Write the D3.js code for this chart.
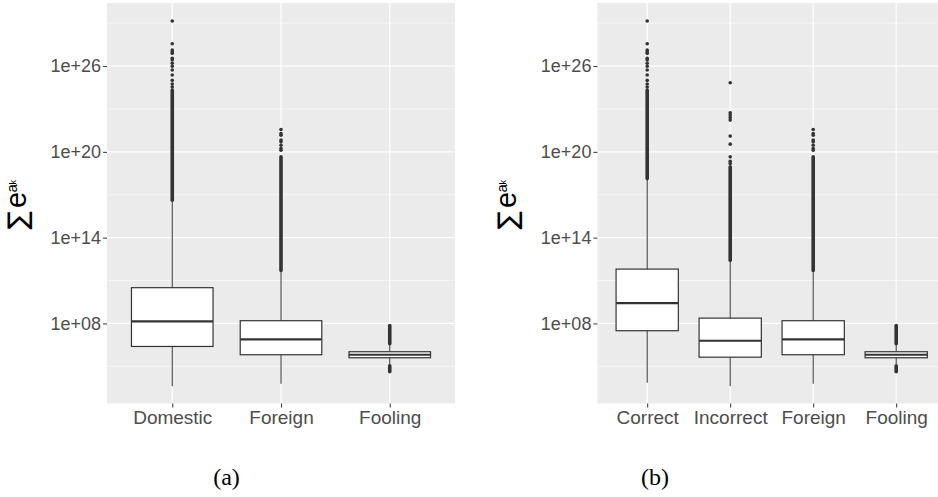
<!DOCTYPE html>
<html>
<head>
<meta charset="utf-8">
<script src="https://cdn.jsdelivr.net/npm/d3@7"></script>
<style>
html,body{margin:0;padding:0;background:#fff;}
svg{display:block;}
</style>
</head>
<body>
<svg id="chart" width="938" height="497"></svg>
<script>
// ---- DATA (all values are log10 of the plotted quantity) ----
const catsA = ["Domestic", "Foreign", "Fooling"];
const q1A = [6.39, 5.81, 5.60];
const medA = [8.14, 6.88, 5.81];
const q3A = [10.50, 8.19, 6.02];
const whiskLoA = [3.61, 3.78, 5.12];
const whiskHiA = [16.61, 11.71, 6.58];
// dense outlier runs [from, to]
const denseHiA = [[16.61, 24.32], [11.71, 19.65], [6.58, 7.86]];
const denseLoA = [null, null, [4.62, 5.04]];
// individually visible outliers
const outA = [
  [29.15, 27.56, 27.12, 27.00, 26.89, 26.54, 26.42, 26.20, 25.99, 25.72, 25.37, 25.00, 24.74, 24.53],
  [21.56, 21.28, 21.16, 20.82, 20.70, 20.46, 20.23, 20.11],
  []
];

const catsB = ["Correct", "Incorrect", "Foreign", "Fooling"];
const q1B = [7.49, 5.64, 5.81, 5.60];
const medB = [9.42, 6.79, 6.88, 5.81];
const q3B = [11.80, 8.37, 8.19, 6.02];
const whiskLoB = [3.85, 3.61, 3.78, 5.12];
const whiskHiB = [18.13, 12.41, 11.71, 6.58];
const denseHiB = [[18.13, 24.32], [12.41, 18.95], [11.71, 19.65], [6.58, 7.86]];
const denseLoB = [null, null, null, [4.62, 5.04]];
const outB = [
  [29.15, 27.56, 27.12, 27.00, 26.89, 26.54, 26.42, 26.20, 25.99, 25.72, 25.37, 25.00, 24.74, 24.53],
  [24.83, 22.73, 22.57, 22.40, 22.22, 21.10, 20.54, 19.65, 19.34, 19.18],
  [21.56, 21.28, 21.16, 20.82, 20.70, 20.46, 20.23, 20.11],
  []
];

const yTickValues = [1e8, 1e14, 1e20, 1e26];
const yTickLabels = ["1e+08", "1e+14", "1e+20", "1e+26"];
const yMinorValues = [1e5, 1e11, 1e17, 1e23, 1e29];
const captions = ["(a)", "(b)"];

// ---- DRAWING ----
const svg = d3.select("#chart");
const yDomain = [Math.pow(10, 2.4), Math.pow(10, 30.41)];
const ink = "#333333";

function panel(opts) {
  const {left, right, top, bottom, cats, q1, med, q3, wlo, whi, dHi, dLo, outs, titleX, titleY, caption, capX} = opts;
  const g = svg.append("g");
  const x = d3.scalePoint().domain(cats).range([left, right]).padding(0.6);
  const y = d3.scaleLog().domain(yDomain).range([bottom, top]);
  const bw = x.step() * 0.75;
  const clipId = "clip" + Math.round(left);
  svg.append("clipPath").attr("id", clipId).append("rect")
    .attr("x", left).attr("y", top).attr("width", right - left).attr("height", bottom - top);

  g.append("rect").attr("x", left).attr("y", top).attr("width", right - left).attr("height", bottom - top)
    .attr("fill", "#EBEBEB");
  g.selectAll(".ymin").data(yMinorValues).join("line")
    .attr("x1", left).attr("x2", right).attr("y1", d => y(d)).attr("y2", d => y(d))
    .attr("stroke", "#fff").attr("stroke-width", 0.6);
  g.selectAll(".ymaj").data(yTickValues).join("line")
    .attr("x1", left).attr("x2", right).attr("y1", d => y(d)).attr("y2", d => y(d))
    .attr("stroke", "#fff").attr("stroke-width", 1.2);
  g.selectAll(".xmaj").data(cats).join("line")
    .attr("x1", d => x(d)).attr("x2", d => x(d)).attr("y1", top).attr("y2", bottom)
    .attr("stroke", "#fff").attr("stroke-width", 1.2);

  const data = cats.map((c, i) => ({c, i}));
  const pg = g.append("g").attr("clip-path", `url(#${clipId})`);
  pg.selectAll(".wu").data(data).join("line")
    .attr("x1", d => x(d.c)).attr("x2", d => x(d.c))
    .attr("y1", d => y(Math.pow(10, q3[d.i]))).attr("y2", d => y(Math.pow(10, whi[d.i])))
    .attr("stroke", ink).attr("stroke-width", 1);
  pg.selectAll(".wl").data(data).join("line")
    .attr("x1", d => x(d.c)).attr("x2", d => x(d.c))
    .attr("y1", d => y(Math.pow(10, q1[d.i]))).attr("y2", d => y(Math.pow(10, wlo[d.i])))
    .attr("stroke", ink).attr("stroke-width", 1);
  pg.selectAll(".box").data(data).join("rect")
    .attr("x", d => x(d.c) - bw / 2).attr("width", bw)
    .attr("y", d => y(Math.pow(10, q3[d.i])))
    .attr("height", d => y(Math.pow(10, q1[d.i])) - y(Math.pow(10, q3[d.i])))
    .attr("fill", "#fff").attr("stroke", ink).attr("stroke-width", 1.2);
  pg.selectAll(".med").data(data).join("line")
    .attr("x1", d => x(d.c) - bw / 2).attr("x2", d => x(d.c) + bw / 2)
    .attr("y1", d => y(Math.pow(10, med[d.i]))).attr("y2", d => y(Math.pow(10, med[d.i])))
    .attr("stroke", ink).attr("stroke-width", 2.2);
  const dense = [];
  data.forEach(d => { if (dHi[d.i]) dense.push({c: d.c, r: dHi[d.i]}); if (dLo[d.i]) dense.push({c: d.c, r: dLo[d.i]}); });
  pg.selectAll(".dense").data(dense).join("line")
    .attr("x1", d => x(d.c)).attr("x2", d => x(d.c))
    .attr("y1", d => y(Math.pow(10, d.r[0]))).attr("y2", d => y(Math.pow(10, d.r[1])))
    .attr("stroke", ink).attr("stroke-width", 3.6).attr("stroke-linecap", "round");
  const pts = [];
  data.forEach(d => outs[d.i].forEach(v => pts.push({c: d.c, v})));
  pg.selectAll(".out").data(pts).join("circle")
    .attr("cx", d => x(d.c)).attr("cy", d => y(Math.pow(10, d.v))).attr("r", 1.8)
    .attr("fill", ink);

  const ya = g.append("g").attr("transform", `translate(${left},0)`)
    .call(d3.axisLeft(y).tickValues(yTickValues).tickFormat((d, i) => yTickLabels[i]).tickSize(4).tickPadding(2));
  ya.select(".domain").remove();
  ya.selectAll(".tick line").attr("stroke", ink);
  ya.selectAll("text").attr("fill", "#4D4D4D").style("font-family", "'Liberation Sans', Arial, sans-serif").style("font-size", "18px");

  const xa = g.append("g").attr("transform", `translate(0,${bottom})`)
    .call(d3.axisBottom(x).tickSize(4).tickPadding(3));
  xa.select(".domain").remove();
  xa.selectAll(".tick line").attr("stroke", ink);
  xa.selectAll("text").attr("fill", "#4D4D4D").style("font-family", "'Liberation Sans', Arial, sans-serif").style("font-size", "19px");

  // y title: sum e^{a_k}
  const t = g.append("g").attr("transform", `translate(${titleX},${titleY}) rotate(-90)`);
  t.append("text").attr("x", -4).attr("y", 1).attr("text-anchor", "end")
    .style("font-family", "'DejaVu Sans', sans-serif").style("font-size", "27px").attr("fill", "#000").text("∑");
  t.append("text").attr("x", -1).attr("y", -0.5)
    .style("font-family", "'Liberation Sans', Arial, sans-serif").style("font-size", "29px").attr("fill", "#000").text("e");
  t.append("text").attr("x", 14.5).attr("y", -9.5)
    .style("font-family", "'Liberation Sans', Arial, sans-serif").style("font-size", "15px").attr("fill", "#000").text("a");
  t.append("text").attr("x", 22.5).attr("y", -10)
    .style("font-family", "'Liberation Sans', Arial, sans-serif").style("font-size", "9px").attr("fill", "#000").text("k");

  svg.append("text").attr("x", capX).attr("y", 485).attr("text-anchor", "middle")
    .style("font-family", "'Liberation Serif', 'DejaVu Serif', serif").style("font-size", "24px").attr("fill", "#000")
    .text(caption);
}

panel({left: 107, right: 455, top: 3, bottom: 403.5, cats: catsA, q1: q1A, med: medA, q3: q3A,
  wlo: whiskLoA, whi: whiskHiA, dHi: denseHiA, dLo: denseLoA, outs: outA, titleX: 26, titleY: 207,
  caption: captions[0], capX: 226.5});
panel({left: 597.4, right: 946, top: 3, bottom: 403.5, cats: catsB, q1: q1B, med: medB, q3: q3B,
  wlo: whiskLoB, whi: whiskHiB, dHi: denseHiB, dLo: denseLoB, outs: outB, titleX: 516, titleY: 207,
  caption: captions[1], capX: 655});
</script>
</body>
</html>
